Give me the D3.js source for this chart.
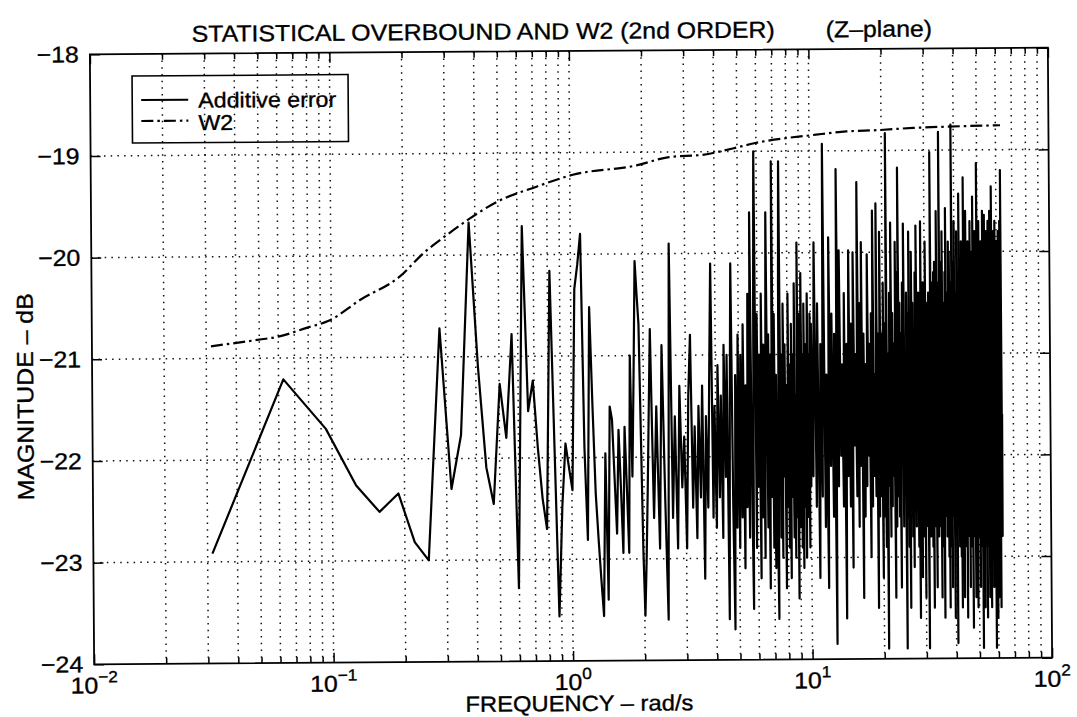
<!DOCTYPE html>
<html><head><meta charset="utf-8">
<script src="https://cdn.jsdelivr.net/npm/d3@7"></script>
<style>body{margin:0;background:#fff}</style>
</head><body>
<svg id="chart" width="1077" height="717"></svg>
<script>
// ---------- data ----------
const titleMain = "STATISTICAL OVERBOUND AND W2 (2nd ORDER)";
const titleSub = "(Z–plane)";
const xLabel = "FREQUENCY – rad/s";
const yLabel = "MAGNITUDE – dB";
const legendLabels = ["Additive error", "W2"];
const xTickExponents = [-2, -1, 0, 1, 2];
const yTickValues = [-24, -23, -22, -21, -20, -19, -18];
const yTickLabels = ["−24", "−23", "−22", "−21", "−20", "−19", "−18"];

// frequency bins are multiples of this step (rad/s)
const freqStep = 0.0314159;

// Additive error, bins 1..70
const errLow = [
  -22.92, -21.21, -21.70, -22.26, -22.52, -22.34, -22.82, -23.00, -20.72, -22.30,
  -21.77, -19.68, -21.10, -22.09, -22.45, -21.27, -21.80, -20.78, -23.28, -19.72,
  -21.54, -21.24, -21.90, -22.40, -22.70, -20.16, -21.90, -23.56, -22.48, -21.86,
  -22.10, -22.32, -20.34, -20.10, -19.80, -21.90, -22.81, -20.52, -21.50, -22.35,
  -22.80, -23.20, -23.56, -21.96, -23.40, -21.50, -21.63, -22.20, -22.75, -21.73,
  -22.30, -22.94, -21.70, -22.30, -22.94, -21.00, -22.19, -21.20, -20.07, -20.40,
  -20.69, -21.80, -22.90, -23.56, -23.00, -22.30, -21.50, -20.74, -21.70, -22.60
];
// Additive error, every 2nd bin from 72 to 318
const errMidStart = 72, errMidStep = 2;
const errMid = [
  -21.5, -22.9, -20.9, -22.4, -23.6, -19.9, -22.6, -21.6, -22.9, -21.3,
  -22.3, -21.8, -22.9, -21.4, -20.8, -22.5, -21.7, -22.8, -21.5, -22.4,
  -21.3, -23.2, -21.6, -22.5, -21.2, -20.1, -22.6, -21.5, -22.7, -21.1,
  -22.4, -21.4, -22.8, -20.9, -22.2, -21.0, -23.6, -21.5, -20.1, -22.5,
  -23.7, -21.2, -22.7, -20.8, -22.9, -21.0, -22.6, -20.7, -23.1, -21.3,
  -22.5, -20.4, -22.8, -19.6, -22.2, -23.5, -20.5, -19.0, -22.9, -20.6,
  -22.3, -21.0, -23.2, -20.4, -22.6, -20.9, -23.0, -21.2, -19.6, -22.7,
  -20.8, -23.3, -21.0, -22.4, -19.1, -22.9, -20.6, -23.1, -21.2, -22.6,
  -23.6, -20.3, -19.1, -22.8, -21.0, -23.0, -20.5, -22.2, -20.9, -23.3,
  -21.3, -22.5, -20.4, -22.9, -21.1, -23.2, -20.7, -22.4, -21.0, -22.8,
  -20.3, -23.0, -21.4, -22.6, -19.9, -23.4, -20.6, -22.7, -21.2, -20.2,
  -22.9, -21.0, -23.1, -20.5, -22.5, -20.9, -23.0, -21.4, -20.4, -22.6,
  -21.0, -22.9, -20.6, -22.3
];
// Additive error, every 5th bin from 320 to 2000
const errHighStart = 320, errHighStep = 5;
const errHigh = [
  -20.7, -22.2, -19.9, -22.5, -20.5, -23.2, -20.9, -22.4, -18.93, -22.7,
  -21.2, -23.3, -19.85, -22.1, -20.6, -22.6, -20.8, -23.85, -19.18, -22.3,
  -19.98, -22.0, -21.1, -22.5, -20.4, -23.6, -20.9, -22.2, -19.98, -22.5,
  -20.7, -23.1, -20.0, -21.9, -21.0, -22.4, -19.31, -22.7, -20.5, -22.1,
  -19.9, -23.4, -20.8, -22.6, -21.1, -22.3, -20.02, -22.0, -20.9, -23.0,
  -20.6, -22.5, -19.59, -22.2, -21.2, -22.4, -19.52, -23.5, -20.8, -22.6,
  -19.8, -22.4, -20.8, -23.2, -20.3, -22.6, -20.7, -22.9, -18.83, -23.9,
  -21.0, -22.3, -20.4, -22.8, -19.71, -22.5, -20.6, -22.2, -20.9, -23.4,
  -19.9, -22.7, -20.2, -22.4, -19.17, -22.6, -20.5, -23.3, -20.8, -22.1,
  -20.3, -22.7, -19.72, -22.4, -21.0, -23.9, -20.4, -22.6, -20.6, -22.9,
  -19.8, -23.5, -20.7, -22.3, -20.0, -22.8, -20.5, -23.1, -20.9, -22.5,
  -20.2, -22.7, -19.74, -22.2, -20.7, -22.9, -20.4, -23.6, -20.8, -22.4,
  -19.7, -23.2, -20.6, -22.6, -20.3, -22.8, -20.9, -23.4, -19.9, -22.5,
  -20.5, -22.7, -20.8, -23.9, -20.4, -22.3, -20.7, -22.8, -19.02, -22.6,
  -20.3, -22.9, -20.6, -23.5, -20.2, -22.4, -20.1, -22.7, -20.5, -23.3,
  -19.6, -22.5, -20.3, -22.8, -20.6, -22.2, -18.82, -22.7, -20.4, -23.4,
  -20.1, -22.9, -19.8, -22.4, -20.5, -23.6, -20.8, -22.6, -20.2, -22.3,
  -19.57, -22.8, -20.4, -22.5, -20.7, -23.0, -19.9, -23.5, -20.0, -22.4,
  -20.5, -22.9, -20.3, -23.3, -18.75, -22.6, -20.6, -22.3, -20.1, -23.6,
  -19.7, -22.8, -20.4, -22.5, -20.8, -23.85, -19.8, -22.7, -20.2, -22.4,
  -20.5, -22.9, -19.43, -22.6, -20.3, -23.0, -20.6, -23.5, -19.9, -22.5,
  -20.2, -22.8, -20.7, -23.4, -19.27, -22.6, -20.4, -22.3, -20.1, -22.9,
  -19.6, -23.6, -20.5, -22.7, -20.3, -22.4, -19.9, -22.8, -20.6, -23.3,
  -20.2, -22.5, -19.7, -22.9, -20.4, -22.6, -20.7, -23.7, -20.0, -22.4,
  -19.46, -22.8, -20.3, -22.5, -20.6, -23.4, -19.8, -22.7, -20.2, -22.9,
  -20.5, -23.5, -19.13, -22.6, -20.4, -22.3, -20.1, -22.8, -19.7, -23.3,
  -20.3, -22.7, -20.6, -22.4, -19.9, -22.9, -20.2, -23.9, -20.5, -22.6,
  -19.6, -22.8, -20.4, -23.5, -20.1, -22.5, -19.64, -22.9, -20.3, -22.6,
  -20.6, -23.6, -19.8, -22.7, -20.2, -22.4, -20.5, -22.9, -19.7, -23.4,
  -20.3, -22.6, -20.0, -22.8, -19.6, -23.5, -20.4, -22.5, -20.2, -22.9,
  -19.36, -22.7, -20.5, -23.3, -20.1, -22.6, -19.8, -22.4, -20.3, -22.8,
  -20.6, -23.9, -19.7, -22.5, -20.2, -22.9, -20.4, -23.6, -19.9, -22.7,
  -20.3, -22.4, -20.5, -23.4, -19.8, -22.8, -20.1, -22.6, -20.4, -23.5,
  -19.7, -22.7, -20.2, -22.5, -19.2, -22.8, -21.6
];

// W2 (2nd order overbound)
const w2Freq = [0.0314, 0.049, 0.06, 0.08, 0.097, 0.133, 0.193, 0.246, 0.306, 0.382,
                0.495, 0.73, 1.02, 1.9, 2.6, 3.6, 4.8, 5.9, 10.7, 14.3, 19.1, 27.3, 37.5, 62.8];
const w2Mag  = [-20.88, -20.82, -20.79, -20.70, -20.64, -20.43, -20.21, -19.97, -19.80, -19.64,
                -19.48, -19.33, -19.22, -19.13, -19.05, -19.03, -18.97, -18.92, -18.84, -18.81,
                -18.80, -18.78, -18.77, -18.76];

// ---------- layout ----------
const W = 1077, H = 717;
const plot = {left: 92, right: 1050, top: 51, bottom: 661};
const tilt = -0.4;               // scanned page is slightly rotated
const font = "'Liberation Sans', Arial, Helvetica, sans-serif";
const stretch = 1.08;            // glyphs look a little wider than Arial
const fs = 23;

const x = d3.scaleLog().domain([0.01, 100]).range([plot.left, plot.right]);
const y = d3.scaleLinear().domain([-24, -18]).range([plot.bottom, plot.top]);

const svg = d3.select("#chart");
svg.append("rect").attr("width", W).attr("height", H).attr("fill", "#fff");
const g = svg.append("g")
  .attr("transform", `rotate(${tilt},${(plot.left+plot.right)/2},${(plot.top+plot.bottom)/2})`);

// grid values
const minorVals = [];
for (let e = -2; e < 2; e++) for (let k = 2; k <= 9; k++) minorVals.push(k * Math.pow(10, e));
const majorVals = xTickExponents.map(e => Math.pow(10, e));
const gridX = minorVals.concat(majorVals.slice(1, -1));

const gridStyle = sel => sel.attr("stroke", "#111").attr("stroke-width", 1.5)
  .attr("stroke-dasharray", "1.5,5.2").attr("fill", "none");

g.append("g").selectAll("line").data(gridX).join("line")
  .attr("x1", d => x(d)).attr("x2", d => x(d))
  .attr("y1", plot.top).attr("y2", plot.bottom).call(gridStyle);
g.append("g").selectAll("line").data(yTickValues.slice(1, -1)).join("line")
  .attr("x1", plot.left).attr("x2", plot.right)
  .attr("y1", d => y(d)).attr("y2", d => y(d)).call(gridStyle);

// axes (ticks inside on all four sides)
const axisStyle = sel => {
  sel.selectAll("text").remove();
  sel.select(".domain").remove();
  sel.selectAll("line").attr("stroke", "#000").attr("stroke-width", 1.5);
};
g.append("g").attr("transform", `translate(0,${plot.bottom})`)
  .call(d3.axisBottom(x).tickValues(majorVals).tickSize(-10).tickFormat("")).call(axisStyle);
g.append("g").attr("transform", `translate(0,${plot.bottom})`)
  .call(d3.axisBottom(x).tickValues(minorVals).tickSize(-6).tickFormat("")).call(axisStyle);
g.append("g").attr("transform", `translate(0,${plot.top})`)
  .call(d3.axisTop(x).tickValues(majorVals).tickSize(-10).tickFormat("")).call(axisStyle);
g.append("g").attr("transform", `translate(0,${plot.top})`)
  .call(d3.axisTop(x).tickValues(minorVals).tickSize(-6).tickFormat("")).call(axisStyle);
g.append("g").attr("transform", `translate(${plot.left},0)`)
  .call(d3.axisLeft(y).tickValues(yTickValues).tickSize(-10).tickFormat("")).call(axisStyle);
g.append("g").attr("transform", `translate(${plot.right},0)`)
  .call(d3.axisRight(y).tickValues(yTickValues).tickSize(-10).tickFormat("")).call(axisStyle);

// data series
const errData = [];
errLow.forEach((v, i) => errData.push({f: (1 + i) * freqStep, v}));
errMid.forEach((v, i) => errData.push({f: (errMidStart + i * errMidStep) * freqStep, v}));
errHigh.forEach((v, i) => errData.push({f: (errHighStart + i * errHighStep) * freqStep, v}));
const w2Data = w2Freq.map((f, i) => ({f, v: w2Mag[i]}));

const line = d3.line().x(d => x(d.f)).y(d => y(d.v));
g.append("path").datum(errData).attr("d", line)
  .attr("fill", "none").attr("stroke", "#000").attr("stroke-width", 2.2)
  .attr("stroke-linejoin", "round");
g.append("path").datum(w2Data).attr("d", line.curve(d3.curveMonotoneX))
  .attr("fill", "none").attr("stroke", "#000").attr("stroke-width", 2.2)
  .attr("stroke-dasharray", "12,4,2.5,4");

// frame
g.append("rect").attr("x", plot.left).attr("y", plot.top)
  .attr("width", plot.right - plot.left).attr("height", plot.bottom - plot.top)
  .attr("fill", "none").attr("stroke", "#000").attr("stroke-width", 1.8);

// helper for stretched text
function stext(parent, tx, ty, str, size, anchor, rot) {
  const t = parent.append("text")
    .attr("transform", `translate(${tx},${ty})${rot ? ` rotate(${rot})` : ""} scale(${stretch},1)`)
    .attr("font-family", font).attr("font-size", size).attr("fill", "#000")
    .attr("stroke", "#000").attr("stroke-width", 0.35)
    .attr("text-anchor", anchor).style("white-space", "pre");
  if (str !== null) t.text(str);
  return t;
}

// y tick labels
yTickValues.forEach((v, i) => {
  stext(g, plot.left - 11, y(v) + 8, yTickLabels[i], fs, "end");
});
// x tick labels (10 with superscript exponent)
xTickExponents.forEach(e => {
  const t = stext(g, x(Math.pow(10, e)), 690, null, fs, "middle");
  t.append("tspan").text("10");
  t.append("tspan").attr("dy", -11).attr("font-size", 16).text(e < 0 ? "−" + (-e) : String(e));
});

// titles and axis labels
stext(g, 194, 39, titleMain, fs, "start");
stext(g, 828, 39, titleSub, fs, "start");
stext(g, 577, 711, xLabel, 22, "middle");
stext(g, 33, 393, yLabel, fs, "middle", -90);

// legend
const lg = g.append("g");
lg.append("rect").attr("x", 134).attr("y", 73).attr("width", 216).attr("height", 67)
  .attr("fill", "none").attr("stroke", "#000").attr("stroke-width", 1.6);
lg.append("line").attr("x1", 143).attr("x2", 190).attr("y1", 97).attr("y2", 97)
  .attr("stroke", "#000").attr("stroke-width", 2);
lg.append("line").attr("x1", 143).attr("x2", 190).attr("y1", 118).attr("y2", 118)
  .attr("stroke", "#000").attr("stroke-width", 2.2).attr("stroke-dasharray", "12,4,2.5,4");
stext(lg, 200, 105, legendLabels[0], 21.5, "start");
stext(lg, 200, 127.5, legendLabels[1], 21.5, "start");
</script>
</body></html>
